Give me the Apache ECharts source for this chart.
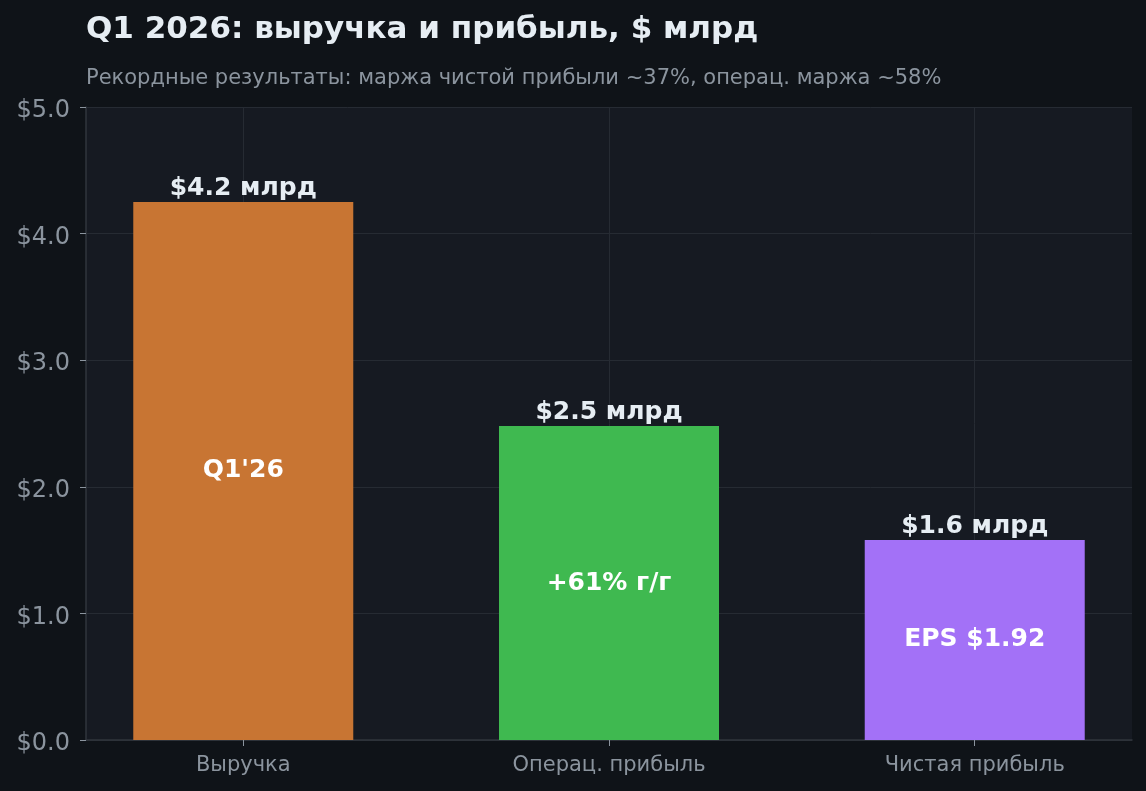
<!DOCTYPE html>
<html>
<head>
<meta charset="utf-8">
<script src="https://cdn.jsdelivr.net/npm/echarts@6/dist/echarts.min.js"></script>
<style>
  html, body { margin: 0; padding: 0; background: #0f1318; }
  #chart { width: 1146px; height: 791px; }
</style>
</head>
<body>
<div id="chart"></div>
<script>
const categories = ['Выручка', 'Операц. прибыль', 'Чистая прибыль'];
const positions = [0, 1, 2];
const values = [4.25, 2.48, 1.58];
const topLabels = ['$4.2 млрд', '$2.5 млрд', '$1.6 млрд'];
const innerLabels = ["Q1'26", '+61% г/г', 'EPS $1.92'];
const barColors = ['#c87533', '#3fb950', '#a371f7'];

const FONT = '"DejaVu Sans", sans-serif';

const chart = echarts.init(document.getElementById('chart'));

const option = {
    backgroundColor: '#0f1318',
    animation: false,
    title: {
        text: 'Q1 2026: выручка и прибыль, $ млрд',
        subtext: 'Рекордные результаты: маржа чистой прибыли ~37%, операц. маржа ~58%',
        left: 81,
        top: 9,
        itemGap: 23,
        textStyle: { color: '#e6edf3', fontFamily: FONT, fontSize: 31, fontWeight: 'bold' },
        subtextStyle: { color: '#8b949e', fontFamily: FONT, fontSize: 21 }
    },
    grid: { left: 86, right: 14, top: 107, bottom: 51, show: true, backgroundColor: '#161a22', borderWidth: 0 },
    xAxis: {
        type: 'value',
        min: -0.43,
        max: 2.43,
        axisLine: { onZero: false, lineStyle: { color: '#30363d', width: 1.5 } },
        axisTick: { show: true, customValues: positions, length: 6, lineStyle: { color: '#8b949e' } },
        axisLabel: {
            customValues: positions,
            color: '#8b949e', fontFamily: FONT, fontSize: 21, margin: 15,
            formatter: v => categories[Math.round(v)]
        },
        splitLine: { show: true, lineStyle: { color: '#262b33', width: 1 } }
    },
    yAxis: {
        type: 'value',
        min: 0,
        max: 5,
        interval: 1,
        axisLine: { show: true, onZero: false, lineStyle: { color: '#30363d', width: 1.5 } },
        axisTick: { show: true, length: 6, lineStyle: { color: '#8b949e' } },
        axisLabel: {
            margin: 16,
            formatter: v => '{t|$' + v.toFixed(1) + '}',
            rich: {
                t: { color: '#8b949e', fontFamily: FONT, fontSize: 24, padding: [8, 0, 0, 0] }
            }
        },
        splitLine: { lineStyle: { color: '#262b33', width: 1 } }
    },
    series: [
        {
            type: 'bar',
            barWidth: 220,
            data: values.map((v, i) => ({ value: [positions[i], v], itemStyle: { color: barColors[i] } })),
            label: {
                show: true,
                position: 'top',
                distance: 1,
                color: '#e6edf3',
                fontFamily: FONT,
                fontSize: 25,
                fontWeight: 'bold',
                formatter: p => topLabels[p.dataIndex]
            },
            z: 3
        },
        {
            type: 'bar',
            barWidth: 220,
            barGap: '-100%',
            data: values.map((v, i) => [positions[i], v]),
            itemStyle: { color: 'rgba(0,0,0,0)' },
            label: {
                show: true,
                position: 'inside',
                color: '#ffffff',
                fontFamily: FONT,
                fontSize: 25,
                fontWeight: 'bold',
                formatter: p => innerLabels[p.dataIndex]
            },
            z: 4
        }
    ]
};

chart.setOption(option);
</script>
</body>
</html>
